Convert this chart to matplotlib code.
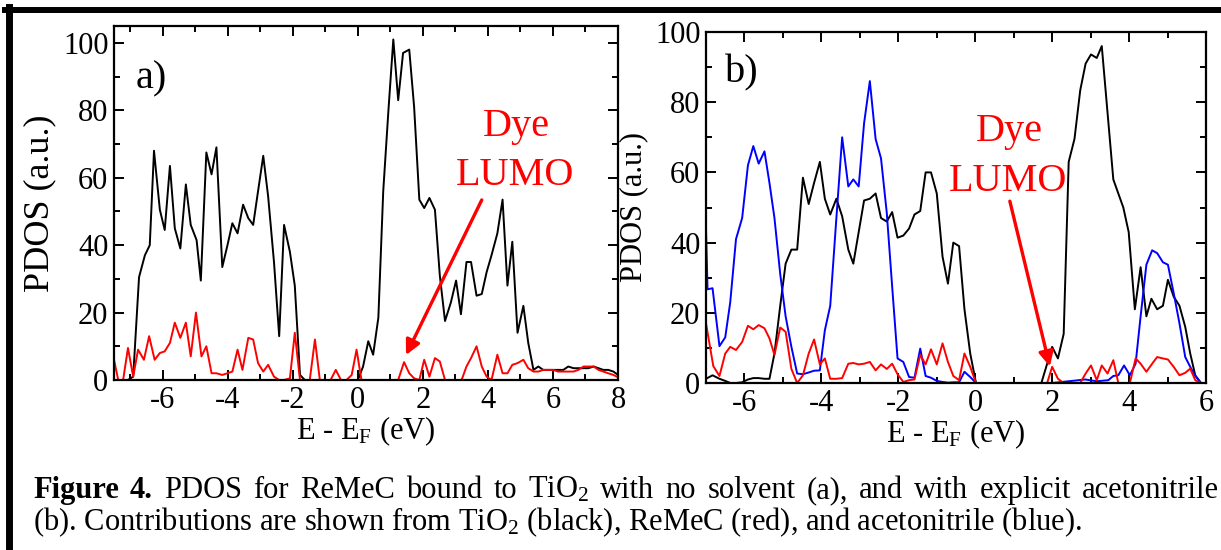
import matplotlib
matplotlib.use("Agg")
import matplotlib.pyplot as plt
from matplotlib.lines import Line2D
from matplotlib.ticker import MultipleLocator

plt.rcParams['font.family'] = 'serif'
plt.rcParams['font.serif'] = ['Liberation Serif', 'DejaVu Serif']
plt.rcParams['axes.unicode_minus'] = False
plt.rcParams['mathtext.fontset'] = 'custom'
plt.rcParams['mathtext.rm'] = 'Liberation Serif'
plt.rcParams['mathtext.it'] = 'Liberation Serif:italic'
plt.rcParams['mathtext.bf'] = 'Liberation Serif:bold'
plt.rcParams['mathtext.default'] = 'regular'

# ---- panel a) no solvent ----
a_tio2_e = [-7.5, -7.07, -6.91, -6.73, -6.55, -6.40, -6.27, -6.09, -5.94, -5.78,
            -5.63, -5.46, -5.29, -5.14, -4.96, -4.83, -4.66, -4.50, -4.35, -4.17,
            -4.01, -3.86, -3.70, -3.53, -3.37, -3.22, -3.07, -2.91, -2.76, -2.58,
            -2.42, -2.27, -2.09, -1.94, -1.78, -1.63, 0.0, 0.16, 0.32, 0.47,
            0.63, 0.78, 0.94, 1.09, 1.24, 1.39, 1.58, 1.73, 1.89, 2.04,
            2.20, 2.37, 2.52, 2.68, 2.86, 3.02, 3.17, 3.34, 3.48, 3.65,
            3.81, 3.96, 4.11, 4.29, 4.45, 4.60, 4.75, 4.91, 5.09, 5.24,
            5.40, 5.55, 5.70, 5.86, 6.01, 6.16, 6.32, 6.47, 6.63, 6.78,
            6.94, 7.09, 7.25, 7.40, 7.55, 7.70, 7.86, 8.0]
a_tio2 = [0, 0, 1, 30.5, 37, 40, 68, 50.5, 44.5, 63.5,
          45, 39, 58, 46, 41.5, 29.5, 67.5, 61, 69, 33.5,
          40, 46.5, 43.5, 52, 48, 46, 56, 66.5, 54.5, 35,
          13, 46, 38, 28, 1.5, 0, 0, 4, 11.5, 7.5,
          18.5, 56, 80, 101, 83, 97, 98, 81, 53.5, 51,
          54, 50.5, 31, 17.5, 23, 29.5, 19.5, 35, 35, 25,
          25.5, 32, 37, 43.5, 53.5, 28, 41, 14, 22, 11,
          3, 4, 3, 3, 3, 3, 3, 4, 3.5, 3.5,
          3.5, 3.5, 4, 3.5, 3, 3, 2.5, 1.5]

a_dye_e = [-7.51, -7.37, -7.22, -7.07, -6.91, -6.76, -6.58, -6.42, -6.25, -6.09,
           -5.94, -5.78, -5.63, -5.46, -5.29, -5.14, -4.98, -4.81, -4.66, -4.50,
           -4.35, -4.17, -4.01, -3.86, -3.70, -3.55, -3.37, -3.22, -3.07, -2.91,
           -2.76, -2.58, -2.42, -2.27, -2.09, -1.94, -1.78, -1.63, -1.48, -1.32,
           -1.17, -1.02, -0.84, -0.68, -0.52, -0.35, -0.19, -0.04, 0.11, 1.24,
           1.42, 1.58, 1.73, 1.89, 2.04, 2.20, 2.37, 2.52, 2.68, 3.19,
           3.34, 3.48, 3.65, 3.81, 3.96, 4.11, 4.29, 4.45, 4.60, 4.75,
           4.91, 5.09, 5.24, 5.40, 5.55, 5.70, 5.86, 6.01, 6.16, 6.32,
           6.47, 6.63, 6.78, 6.94, 7.09, 7.25, 7.40, 7.55, 7.70, 7.86, 8.06]
a_dye = [6.5, 0, 0, 9.5, 1, 9, 6, 13, 6, 8,
         8.5, 11, 17, 12.5, 17, 7, 20, 7, 10, 2,
         2, 1.5, 2, 2.5, 9, 3, 12.5, 12, 5, 2.5,
         4.5, 1, 0, 0, 0.5, 14, 0, 0, 0, 12,
         0, 0, 0, 3, 0, 0, 1.5, 9, 0, 0,
         5.3, 2, 0.5, 0, 6, 1, 6.5, 5.5, 0, 0,
         4, 6.5, 10, 4, 1, 0, 7.5, 2, 2, 4.5,
         5, 6, 3.5, 2.5, 2.5, 3, 3, 3, 2.5, 2.5,
         2.5, 2.5, 3, 4, 4, 4, 3, 2.5, 2, 1.5, 0.5]

# ---- panel b) explicit acetonitrile ----
b_tio2_e = [-7.0, -6.83, -6.65, -6.50, -6.37, -6.22, -6.06, -5.91, -5.77, -5.63,
            -5.48, -5.35, -5.22, -5.07, -4.93, -4.78, -4.63, -4.48, -4.33, -4.19,
            -4.04, -3.91, -3.77, -3.61, -3.46, -3.30, -3.17, -3.03, -2.89, -2.74,
            -2.59, -2.45, -2.30, -2.16, -2.02, -1.87, -1.72, -1.58, -1.43, -1.29,
            -1.15, -1.00, -0.85, -0.71, -0.57, -0.42, -0.28, -0.13, 0.02,
            1.72, 1.87, 2.0, 2.15, 2.30, 2.43, 2.58, 2.73, 2.87, 3.01,
            3.16, 3.29, 3.44, 3.59, 3.72, 3.85, 3.99, 4.15, 4.30, 4.45,
            4.58, 4.73, 4.88, 5.01, 5.16, 5.31, 5.46, 5.59, 5.72, 5.87]
b_tio2 = [1.2, 2.2, 1.2, 0.6, 0, 0, 0.2, 1, 1.4, 1.4,
          1.2, 1.2, 8.4, 22, 34, 38, 38, 58.5, 51, 57,
          63, 52.5, 48, 52.5, 47.5, 38, 34, 43, 52, 52.5,
          54, 47, 46, 48.7, 41.4, 42, 44, 48, 49, 60,
          60, 54, 36, 28.3, 40, 39, 21, 8.4, 0,
          0, 5.5, 10.3, 7, 14, 63, 69.5, 83.4, 91, 93.6,
          92.6, 96, 77, 58, 54, 50, 43, 21, 33, 19,
          24, 21, 22, 29.4, 24.6, 22, 16, 8.4, 2.2, 0]

b_acn_e = [-7.0, -6.96, -6.83, -6.65, -6.50, -6.37, -6.22, -6.06, -5.91, -5.77,
           -5.63, -5.48, -5.35, -5.22, -5.07, -4.93, -4.78, -4.63, -4.48, -4.33,
           -4.19, -4.04, -3.91, -3.77, -3.61, -3.46, -3.30, -3.17, -3.03, -2.89,
           -2.74, -2.59, -2.45, -2.30, -2.16, -2.02, -1.87, -1.72, -1.58, -1.43,
           -1.29, -1.15, -1.00, -0.85, -0.71, -0.57, -0.42, -0.28, -0.13, 0.02,
           2.0, 2.86, 3.16, 3.46, 3.59, 3.72, 3.87, 4.02, 4.17, 4.30,
           4.45, 4.60, 4.73, 4.88, 5.01, 5.16, 5.31, 5.46, 5.59, 5.72, 5.87]
b_acn = [44, 26.7, 27, 10.5, 13, 23, 41, 47, 62, 67.5,
         62.5, 66, 57, 47, 31, 19, 10.3, 2.7, 2.5, 3,
         3.5, 3.6, 15, 22, 47, 70, 56, 58, 56, 74,
         86, 69.5, 64, 48.5, 27.5, 7, 6, 1.7, 1.5, 9.8,
         2, 1.5, 0.6, 0.3, 0.1, 0.2, 0.2, 3.2, 1.7, 0,
         0, 1, 0.5, 0.8, 2, 2.2, 5, 2.2, 5.5, 19,
         33.7, 37.8, 37, 34.4, 33.7, 25.6, 17, 7.4, 4.6, 2, 0]

b_dye_e = [-7.0, -6.81, -6.65, -6.50, -6.37, -6.22, -6.06, -5.91, -5.77, -5.63,
           -5.48, -5.35, -5.22, -5.07, -4.93, -4.78, -4.63, -4.48, -4.33, -4.19,
           -4.04, -3.91, -3.77, -3.61, -3.46, -3.30, -3.17, -3.03, -2.89, -2.74,
           -2.59, -2.45, -2.30, -2.16, -2.02, -1.87, -1.72, -1.58, -1.43, -1.29,
           -1.15, -1.00, -0.85, -0.71, -0.57, -0.42, -0.28, -0.13, 0.02,
           1.87, 2.0, 2.15, 2.30, 2.73, 2.87, 3.01, 3.16, 3.29, 3.44,
           3.59, 3.72, 4.02, 4.17, 4.30, 4.45, 4.60, 4.73, 4.88, 5.01,
           5.16, 5.31, 5.46, 5.59, 5.72, 5.87]
b_dye = [17, 4.8, 2, 8.4, 10.3, 9.4, 11.7, 16.3, 15.3, 16.5,
         15.6, 12.7, 8, 15.8, 14.6, 4, 0, 2.2, 8.4, 12.4,
         5.3, 7, 1.2, 1.2, 1.4, 5.5, 5.7, 5.3, 5.5, 6,
         3.6, 5.3, 4, 5.5, 2.5, 0.3, 0.8, 1, 8, 5.3,
         9.6, 5.3, 11.3, 6, 2, 0.8, 8.4, 4.6, 0,
         0, 4.6, 1.2, 0, 0, 2.7, 5, 0.8, 5, 2.7,
         6.5, 0, 0, 7, 5.5, 3.2, 5.5, 7.4, 7, 6.7,
         4.6, 2.2, 2.9, 4.1, 0.8, 0]

caption_head = ["Figure", "4."]
caption_1 = "PDOS for ReMeC bound to TiO$_2$ with no solvent (a), and with explicit acetonitrile"
caption_2 = "(b). Contributions are shown from TiO$_2$ (black), ReMeC (red), and acetonitrile (blue)."

W, H = 1221, 550
fig = plt.figure(figsize=(W / 100, H / 100), dpi=100)

# axes placed by pixel boxes (left, top, right, bottom)
def add_panel(l, t, r, b):
    return fig.add_axes([l / W, 1 - b / H, (r - l) / W, (b - t) / H])

ax_a = add_panel(114, 26, 618, 380)
ax_b = add_panel(706, 32, 1206, 383)

ax_a.plot(a_tio2_e, a_tio2, color='black', lw=1.4)
ax_a.plot(a_dye_e, a_dye, color='#ff0000', lw=1.4)

ax_b.plot(b_tio2_e, b_tio2, color='black', lw=1.4)
ax_b.plot(b_acn_e, b_acn, color='#0000ff', lw=1.4)
ax_b.plot(b_dye_e, b_dye, color='#ff0000', lw=1.4)

ax_a.set_xlim(-7.5, 8)
ax_a.set_ylim(0, 105)
ax_b.set_xlim(-7, 6)
ax_b.set_ylim(0, 100)

for ax, lab_size in [(ax_a, 26), (ax_b, 22)]:
    ax.xaxis.set_major_locator(MultipleLocator(2))
    ax.xaxis.set_minor_locator(MultipleLocator(1))
    ax.yaxis.set_major_locator(MultipleLocator(20))
    ax.yaxis.set_minor_locator(MultipleLocator(10))
    ax.tick_params(which='both', direction='in', top=True, right=True, width=1.4)
    ax.tick_params(which='major', length=7, labelsize=22, pad=4)
    ax.tick_params(which='minor', length=4)
    for s in ax.spines.values():
        s.set_linewidth(1.6)
    ax.set_xlabel(r"E - E$_F$ (eV)", fontsize=22, labelpad=0)
    ax.set_ylabel("PDOS (a.u.)", fontsize=lab_size, labelpad=5)

# panel tags and dye LUMO markers
ax_a.text(-6.85, 86.6, "a)", fontsize=29, ha='left', va='baseline')
ax_b.text(-6.5, 85.7, "b)", fontsize=29, ha='left', va='baseline')

ax_a.text(4.88, 72.4, "Dye", color='#ff0000', fontsize=29, ha='center', va='baseline')
ax_a.text(4.83, 57.9, "LUMO", color='#ff0000', fontsize=29, ha='center', va='baseline')
ax_b.text(0.88, 68.9, "Dye", color='#ff0000', fontsize=29, ha='center', va='baseline')
ax_b.text(0.85, 54.7, "LUMO", color='#ff0000', fontsize=29, ha='center', va='baseline')

arrow = dict(arrowstyle='-|>', color='#ff0000', lw=2.4, mutation_scale=22,
             shrinkA=0, shrinkB=0)
ax_a.annotate("", xy=(1.48, 7.4), xytext=(3.81, 53.4), arrowprops=arrow)
ax_b.annotate("", xy=(1.94, 4.7), xytext=(0.90, 51.8), arrowprops=arrow)

# page frame
fig.add_artist(Line2D([5 / W, 1], [1 - 9.5 / H] * 2, color='black', lw=4.3,
                      transform=fig.transFigure))
fig.add_artist(Line2D([8.5 / W] * 2, [0, 1 - 7 / H], color='black', lw=5,
                      transform=fig.transFigure))

# caption: first line justified between x0 and x1 (as in the page), second left aligned
cap_size = 22
x0, x1 = 33, 1219
fig.canvas.draw()
renderer = fig.canvas.get_renderer()
words = [(w, 'bold') for w in caption_head] + [(w, 'normal') for w in caption_1.split(" ")]
items = []
for w, weight in words:
    t = fig.text(0, 1 - 498 / H, w, fontsize=cap_size, fontweight=weight,
                 ha='left', va='baseline')
    items.append((t, t.get_window_extent(renderer).width))
gap = (x1 - x0 - sum(wd for _, wd in items)) / (len(items) - 1)
x = x0
for t, wd in items:
    t.set_x(x / W)
    x += wd + gap
fig.text(x0 / W, 1 - 530 / H, caption_2, fontsize=cap_size, ha='left', va='baseline')

fig.savefig("out.png", dpi=100)
